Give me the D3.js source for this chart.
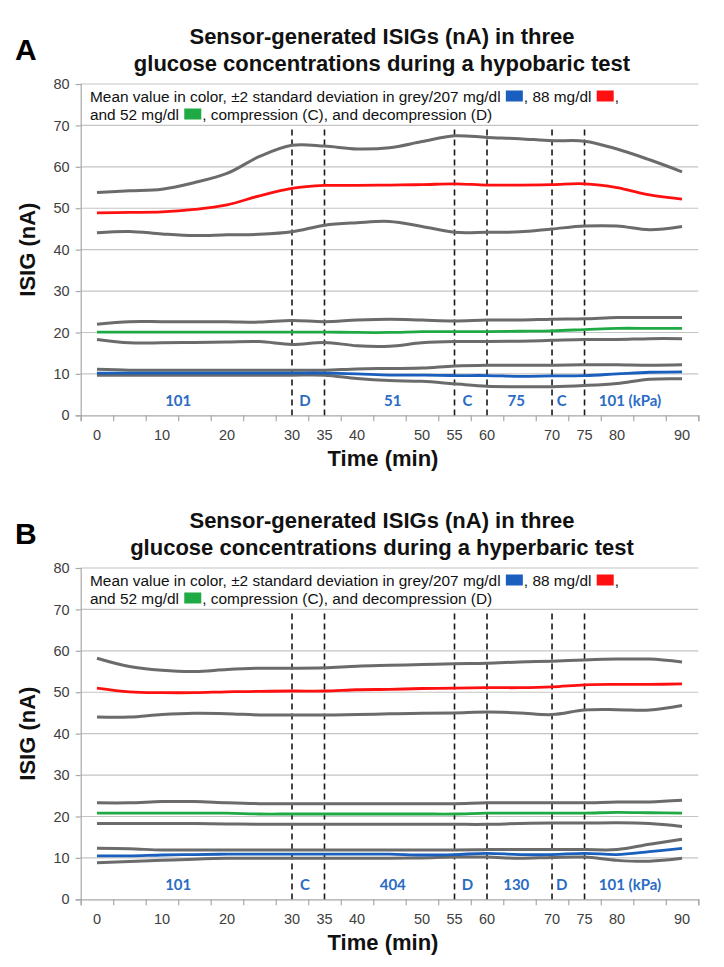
<!DOCTYPE html>
<html>
<head>
<meta charset="utf-8">
<script src="https://cdn.jsdelivr.net/npm/d3@7"></script>
<style>
  html, body { margin: 0; padding: 0; background: #fff; }
  svg { display: block; }
</style>
</head>
<body>
<svg id="chart" width="724" height="967"></svg>
<script>
// ---------- DATA ----------
const times = [0, 5, 10, 15, 20, 25, 30, 35, 40, 45, 50, 55, 60, 65, 70, 75, 80, 85, 90];
const yTicks = [0, 10, 20, 30, 40, 50, 60, 70, 80];
const xTickLabels = [0, 10, 20, 30, 35, 40, 50, 55, 60, 70, 75, 80, 90];
const phaseBounds = [30, 35, 55, 60, 70, 75];
const phaseLabelAt = [12.5, 32, 45.5, 57, 64.5, 71.5, 82];

// Panel A: hypobaric
const aTitle = ["Sensor-generated ISIGs (nA) in three", "glucose concentrations during a hypobaric test"];
const aPhases = ["101", "D", "51", "C", "75", "C", "101 (kPa)"];
const aBlueUp  = [11.1, 10.9, 10.9, 10.9, 10.9, 10.9, 10.9, 10.9, 11.2, 11.3, 11.4, 11.9, 12.1, 12.1, 12.1, 12.2, 12.2, 12.1, 12.2];
const aBlue    = [10.2, 10.2, 10.2, 10.2, 10.2, 10.2, 10.2, 10.2, 10.0, 9.7, 9.7, 9.6, 9.6, 9.4, 9.5, 9.6, 10.0, 10.4, 10.5];
const aBlueLo  = [9.7, 9.7, 9.7, 9.7, 9.7, 9.7, 9.7, 9.7, 8.9, 8.4, 8.2, 7.6, 7.0, 6.9, 6.9, 7.2, 7.7, 8.7, 8.8];
const aGreenUp = [22.0, 22.6, 22.6, 22.6, 22.6, 22.5, 22.9, 22.6, 23.0, 23.2, 23.0, 22.8, 23.0, 23.0, 23.2, 23.3, 23.6, 23.6, 23.6];
const aGreen   = [20.1, 20.1, 20.1, 20.1, 20.1, 20.1, 20.1, 20.1, 20.0, 20.0, 20.2, 20.2, 20.2, 20.3, 20.4, 20.7, 21.0, 21.0, 21.0];
const aGreenLo = [18.3, 17.5, 17.5, 17.6, 17.7, 17.8, 17.1, 17.6, 16.8, 16.7, 17.5, 17.8, 17.8, 17.9, 18.1, 18.3, 18.3, 18.5, 18.5];
const aRedUp   = [53.8, 54.2, 54.6, 56.2, 58.4, 62.5, 65.2, 65.0, 64.3, 64.6, 66.1, 67.5, 67.1, 66.8, 66.3, 66.2, 64.3, 61.7, 58.8];
const aRed     = [48.9, 49.0, 49.1, 49.7, 50.8, 53.0, 54.8, 55.5, 55.5, 55.6, 55.7, 55.9, 55.6, 55.6, 55.7, 55.9, 55.0, 53.2, 52.2];
const aRedLo   = [44.1, 44.4, 43.8, 43.4, 43.6, 43.7, 44.3, 45.9, 46.5, 46.8, 45.6, 44.2, 44.2, 44.3, 45.0, 45.7, 45.7, 44.8, 45.6];

// Panel B: hyperbaric
const bTitle = ["Sensor-generated ISIGs (nA) in three", "glucose concentrations during a hyperbaric test"];
const bPhases = ["101", "C", "404", "D", "130", "D", "101 (kPa)"];
const bBlueUp  = [12.3, 12.2, 11.9, 11.9, 11.9, 11.9, 11.9, 11.9, 11.9, 11.9, 11.9, 11.9, 12.0, 12.0, 12.0, 12.0, 12.0, 13.3, 14.5];
const bBlue    = [10.5, 10.5, 10.7, 10.8, 10.9, 10.9, 10.9, 10.9, 10.9, 10.9, 10.7, 10.8, 11.1, 10.8, 10.8, 11.1, 10.8, 11.5, 12.3];
const bBlueLo  = [8.8, 9.1, 9.4, 9.7, 9.9, 9.9, 9.9, 9.9, 9.9, 9.9, 10.0, 10.2, 10.2, 9.9, 10.1, 10.2, 9.4, 9.2, 9.9];
const bGreenUp = [23.3, 23.3, 23.6, 23.6, 23.3, 23.1, 23.1, 23.1, 23.1, 23.1, 23.1, 23.1, 23.3, 23.3, 23.3, 23.3, 23.5, 23.5, 23.9];
const bGreen   = [20.8, 20.8, 20.8, 20.8, 20.8, 20.6, 20.6, 20.6, 20.6, 20.6, 20.6, 20.6, 20.8, 20.8, 20.8, 20.8, 21.0, 20.9, 20.8];
const bGreenLo = [18.3, 18.3, 18.3, 18.3, 18.2, 18.1, 18.1, 18.1, 18.1, 18.1, 18.1, 18.1, 18.1, 18.3, 18.4, 18.4, 18.5, 18.3, 17.6];
const bRedUp   = [58.2, 56.2, 55.3, 55.0, 55.5, 55.8, 55.8, 55.9, 56.3, 56.5, 56.7, 56.9, 57.0, 57.3, 57.5, 57.8, 58.0, 58.0, 57.3];
const bRed     = [51.0, 50.1, 49.9, 49.9, 50.1, 50.2, 50.3, 50.3, 50.6, 50.7, 50.9, 51.0, 51.1, 51.1, 51.3, 51.8, 51.9, 51.9, 52.0];
const bRedLo   = [44.0, 44.0, 44.6, 44.9, 44.8, 44.5, 44.5, 44.5, 44.6, 44.8, 44.9, 45.0, 45.2, 45.0, 44.6, 45.7, 45.8, 45.7, 46.8];

const legendParts = [
  ["Mean value in color, \u00b12 standard deviation in grey/207 mg/dl ", "blue", ", 88 mg/dl ", "red", ","],
  ["and 52 mg/dl ", "green", ", compression (C), and decompression (D)"]
];

// ---------- STYLE ----------
const COLORS = { blue: "#1a5fbd", red: "#ff1010", green: "#1faa45", grey: "#6b6b6b" };
const svg = d3.select("#chart");

function drawPanel(cfg) {
  const { top, letter, title, phases, series } = cfg;
  const g = svg.append("g").attr("transform", `translate(0,${top})`);
  const x = d3.scaleLinear().domain([-2.5, 92.5]).range([80.7, 698.3]);
  const y = d3.scaleLinear().domain([0, 80]).range([415.3, 84]);

  // Letter and title
  g.append("text").attr("x", 15).attr("y", 60)
    .attr("font-family", "Liberation Sans, Arial, sans-serif").attr("font-weight", "bold")
    .attr("font-size", 30).attr("fill", "#000").text(letter);
  title.forEach((t, i) => {
    g.append("text").attr("x", 382).attr("y", 44 + i * 27)
      .attr("text-anchor", "middle")
      .attr("font-family", "Liberation Sans, Arial, sans-serif").attr("font-weight", "bold")
      .attr("font-size", 22).attr("fill", "#111").text(t);
  });

  // Gridlines
  g.append("g").selectAll("line").data(yTicks.filter(d => d > 0)).join("line")
    .attr("x1", x(-2.5)).attr("x2", x(92.5))
    .attr("y1", d => y(d)).attr("y2", d => y(d))
    .attr("stroke", "#c4c4c4").attr("stroke-width", 1.2);

  // Y axis
  const yAxis = d3.axisLeft(y).tickValues(yTicks).tickSize(5).tickPadding(6);
  const ya = g.append("g").attr("transform", `translate(${x(-2.5)},0)`).call(yAxis);
  ya.select(".domain").attr("stroke", "#a8a8a8").attr("stroke-width", 1.2);
  ya.selectAll(".tick line").attr("stroke", "#a8a8a8").attr("stroke-width", 1.2);
  ya.selectAll(".tick text").attr("font-family", "Liberation Sans, Arial, sans-serif")
    .attr("font-size", 14.5).attr("fill", "#404040");

  // X axis (category-style ticks every 5 min, boundaries between points)
  const xTickPos = d3.range(-2.5, 93, 5);
  const xAxis = d3.axisBottom(x).tickValues(xTickPos).tickSize(6).tickFormat("");
  const xa = g.append("g").attr("transform", `translate(0,${y(0)})`).call(xAxis);
  xa.select(".domain").attr("stroke", "#a8a8a8").attr("stroke-width", 1.2);
  xa.selectAll(".tick line").attr("stroke", "#a8a8a8").attr("stroke-width", 1.2);
  g.append("g").selectAll("text").data(xTickLabels).join("text")
    .attr("x", d => x(d)).attr("y", y(0) + 25)
    .attr("text-anchor", "middle")
    .attr("font-family", "Liberation Sans, Arial, sans-serif")
    .attr("font-size", 14.5).attr("fill", "#404040").text(d => d);

  // Axis titles
  g.append("text").attr("x", 383).attr("y", y(0) + 51)
    .attr("text-anchor", "middle")
    .attr("font-family", "Liberation Sans, Arial, sans-serif").attr("font-weight", "bold")
    .attr("font-size", 22).attr("fill", "#111").text("Time (min)");
  g.append("text")
    .attr("transform", `translate(35,${(y(0) + y(80)) / 2}) rotate(-90)`)
    .attr("text-anchor", "middle")
    .attr("font-family", "Liberation Sans, Arial, sans-serif").attr("font-weight", "bold")
    .attr("font-size", 22).attr("fill", "#111").text("ISIG (nA)");

  // Dashed phase boundaries
  g.append("g").selectAll("line").data(phaseBounds).join("line")
    .attr("x1", d => x(d)).attr("x2", d => x(d))
    .attr("y1", y(69)).attr("y2", y(0))
    .attr("stroke", "#1a1a1a").attr("stroke-width", 1.6)
    .attr("stroke-dasharray", "6,4");

  // Phase labels
  g.append("g").selectAll("text").data(phases).join("text")
    .attr("x", (d, i) => x(phaseLabelAt[i])).attr("y", y(3.4) + 5)
    .attr("text-anchor", "middle")
    .attr("font-family", "Lato, 'Open Sans', sans-serif").attr("font-weight", "bold")
    .attr("font-size", 15).attr("fill", "#2a6cc4").text(d => d);

  // Lines
  const line = d3.line().x((d, i) => x(times[i])).y(d => y(d)).curve(d3.curveCatmullRom.alpha(0.5));
  const greys = [series.redUp, series.redLo, series.greenUp, series.greenLo, series.blueUp, series.blueLo];
  g.append("g").selectAll("path").data(greys).join("path")
    .attr("d", line).attr("fill", "none")
    .attr("stroke", COLORS.grey).attr("stroke-width", 3).attr("stroke-linejoin", "round");
  const means = [[series.red, COLORS.red], [series.green, COLORS.green], [series.blue, COLORS.blue]];
  g.append("g").selectAll("path").data(means).join("path")
    .attr("d", d => line(d[0])).attr("fill", "none")
    .attr("stroke", d => d[1]).attr("stroke-width", 2.8).attr("stroke-linejoin", "round");

  // Legend text with swatches
  legendParts.forEach((parts, li) => {
    let cx = 90;
    const by = 101.5 + li * 18;
    parts.forEach(p => {
      if (COLORS[p] && p !== "grey") {
        g.append("rect").attr("x", cx + 1).attr("y", by - 11).attr("width", 17).attr("height", 11)
          .attr("fill", COLORS[p]);
        cx += 19;
      } else {
        const t = g.append("text").attr("x", cx).attr("y", by)
          .attr("font-family", "Liberation Sans, Arial, sans-serif")
          .attr("font-size", 15.4).attr("fill", "#111")
          .attr("xml:space", "preserve").style("white-space", "pre").text(p);
        cx += t.node().getComputedTextLength();
      }
    });
  });
}

drawPanel({
  top: 0, letter: "A", title: aTitle, phases: aPhases,
  series: { blueUp: aBlueUp, blue: aBlue, blueLo: aBlueLo, greenUp: aGreenUp, green: aGreen, greenLo: aGreenLo,
            redUp: aRedUp, red: aRed, redLo: aRedLo }
});
drawPanel({
  top: 484, letter: "B", title: bTitle, phases: bPhases,
  series: { blueUp: bBlueUp, blue: bBlue, blueLo: bBlueLo, greenUp: bGreenUp, green: bGreen, greenLo: bGreenLo,
            redUp: bRedUp, red: bRed, redLo: bRedLo }
});
</script>
</body>
</html>
